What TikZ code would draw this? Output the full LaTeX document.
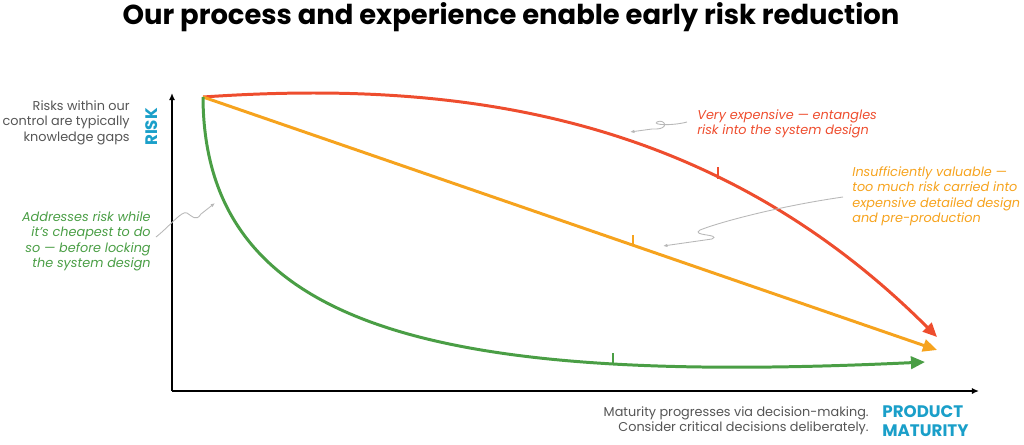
\documentclass[tikz,border=0pt]{standalone}
\usepackage{fontspec}
\setmainfont{Poppins}
\usetikzlibrary{arrows.meta}
\definecolor{cred}{HTML}{EE4D2E}
\definecolor{corange}{HTML}{F6A31E}
\definecolor{cgreen}{HTML}{4A9E45}
\definecolor{cblue}{HTML}{1A9FC9}
\definecolor{cgray}{HTML}{555555}
\definecolor{cptr}{HTML}{B8B8B8}
\tikzset{
  axisline/.style={line width=1.2pt, black, -{Latex[length=4pt,width=3.5pt]}},
  curve/.style={line width=1.7pt, -{Triangle[length=8pt,width=7pt]}},
  ticky/.style={line width=1.4pt},
  pointer/.style={line width=0.5pt, cptr, -{Latex[length=2.5pt,width=2pt]}},
  body/.style={font=\fontsize{7.3}{8.8}\selectfont, inner sep=0pt},
  bodyit/.style={font=\fontsize{7.3}{8.8}\selectfont\itshape, inner sep=0pt},
  axlabel/.style={font=\fontsize{9.5}{10.5}\selectfont\bfseries, text=cblue, inner sep=0pt}
}
\begin{document}
\begin{tikzpicture}[x=0.02cm,y=-0.02cm]
\useasboundingbox (0,0) rectangle (1024,444);

% title
\node[font=\fontsize{15.6}{17}\selectfont\bfseries, inner sep=0pt] (title) at (511,17) {Our process and experience enable early risk reduction};

% axes
\coordinate (corner) at (172,391);
\coordinate (ytip) at (172,93);
\coordinate (xtip) at (979,391);
\draw[axisline] (corner) -- (ytip);
\draw[axisline] (corner) -- (xtip);

% curves
\coordinate (start) at (203,97);
\coordinate (redend) at (937,337);
\coordinate (orangeend) at (937,350);
\coordinate (greenend) at (925,362);
\draw[curve, cred] (start) .. controls (450,80) and (710,110) .. coordinate[pos=0.69] (redtick) (redend);
\draw[curve, corange] (start) -- coordinate[pos=0.586] (orangetick) (orangeend);
\draw[curve, cgreen] (start) .. controls (204,330) and (440,385) .. coordinate[pos=0.755] (greentick) (greenend);

% ticks
\draw[ticky, cred] ([yshift=-0.5pt]redtick) -- ++(0,-12);
\draw[ticky, corange] ([yshift=-0.5pt]orangetick) -- ++(0,-11);
\draw[ticky, cgreen] ([yshift=-0.5pt]greentick) -- ++(0,-11);

% labels
\node[body, text=cgray, align=right, anchor=north east] (risknote) at (130,100)
  {Risks within our\\control are typically\\knowledge gaps};
\node[axlabel, rotate=90] (risk) at (152,127) {RISK};

\node[bodyit, text=cgreen, align=right, anchor=north east] (greennote) at (151,211)
  {Addresses risk while\\it’s cheapest to do\\so — before locking\\the system design};
\node[bodyit, text=cred, align=left, anchor=north west] (rednote) at (697,109)
  {Very expensive — entangles\\risk into the system design};
\node[bodyit, text=corange, align=left, anchor=north west] (orangenote) at (852,166)
  {Insufficiently valuable —\\too much risk carried into\\expensive detailed design\\and pre-production};

\node[body, text=cgray, align=right, anchor=north east] (maturitynote) at (869,406)
  {Maturity progresses via decision-making.\\Consider critical decisions deliberately.};
\node[axlabel, align=left, anchor=north west, font=\fontsize{9.5}{11}\selectfont\bfseries] (maturity) at (882,405)
  {PRODUCT\\MATURITY};

% pointers
\coordinate (redptr) at (630,132);
\coordinate (orangeptr) at (663,246);
\coordinate (greenptr) at (215,203);
\draw[pointer] (rednote.west |- 0,122) ++(-10,0) .. controls (672,126) and (652,125) .. (657,122)
  .. controls (664,118) and (672,130) .. (652,129) -- (redptr);
\draw[pointer] (orangenote.west |- 0,197) ++(-9,0) .. controls (780,206) and (720,222) .. (700,230)
  .. controls (690,236) and (722,234) .. (712,239) -- (orangeptr);
\draw[pointer] (greennote.east |- 0,237) ++(5,0) .. controls (170,226) and (182,210) .. (187,213)
  .. controls (192,216) and (196,222) .. (201,214) -- (greenptr);
\end{tikzpicture}
\end{document}
